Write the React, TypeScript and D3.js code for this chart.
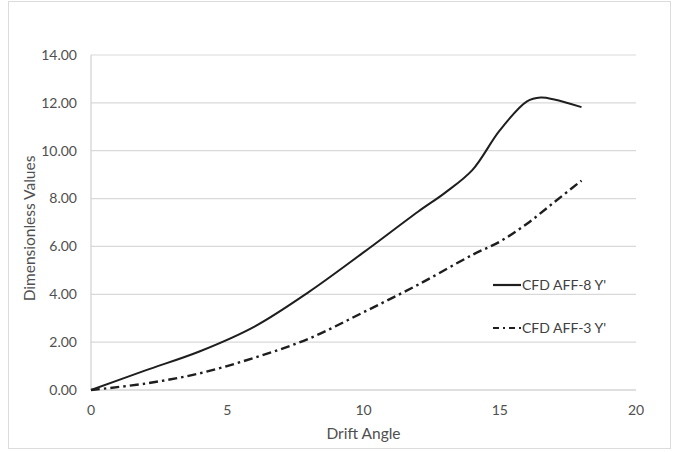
import React from 'react';
import * as d3 from 'd3';

// drift angle (deg) and the two Y' series
const aff8Angles = [0, 2, 4, 6, 8, 10, 12, 13, 14, 15, 16, 16.5, 17, 18];
const aff8Values = [0, 0.82, 1.62, 2.65, 4.1, 5.75, 7.45, 8.25, 9.2, 10.85, 12.06, 12.22, 12.14, 11.82];
const aff3Angles = [0, 2, 4, 6, 8, 10, 12, 14, 15, 16, 17, 18];
const aff3Values = [0, 0.27, 0.7, 1.35, 2.15, 3.25, 4.4, 5.65, 6.2, 6.95, 7.85, 8.75];

const xTicks = [0, 5, 10, 15, 20];
const yTicks = [0, 2, 4, 6, 8, 10, 12, 14];

const seriesNames = ["CFD AFF-8 Y'", "CFD AFF-3 Y'"];

const W = 676, H = 452;
const margin = { top: 55, right: 40, bottom: 62, left: 91 };
const FONT = 'Lato, "Open Sans", sans-serif';
const TEXT = '#505050';
const DASHDOT = '9,4,2.5,4';

export default function App() {
    var width = W - margin.left - margin.right;
    var height = H - margin.top - margin.bottom;

    var x = d3.scaleLinear().domain([0, 20]).range([0, width]);
    var y = d3.scaleLinear().domain([0, 14]).range([height, 0]);

    // excel style smoothed line
    const makeLine = (angles: number[]) => d3.line<number>()
        .x((d, i) => x(angles[i]))
        .y(d => y(d))
        .curve(d3.curveCatmullRom.alpha(0.5));

    return (
        <svg width={W} height={H} style={{ position: 'absolute', left: 0, top: 0, background: '#fff' }}
            fontFamily={FONT}>
            <rect x={8.5} y={1.5} width={662} height={447} fill="none" stroke="#dcdcdc" />
            <g transform={`translate(${margin.left},${margin.top})`}>
                {/* grid */}
                {yTicks.map(t => (
                    <line key={'g' + t} x1={0} x2={width} y1={y(t)} y2={y(t)}
                        stroke={t === 0 ? '#bfbfbf' : '#d9d9d9'} strokeWidth={1.2} />
                ))}
                <line x1={0} x2={0} y1={0} y2={height} stroke="#d0d0d0" strokeWidth={1.2} />
                {yTicks.map(t => (
                    <text key={'y' + t} x={-14} y={y(t)} dy="0.35em" textAnchor="end"
                        fontSize={14} fill={TEXT}>{t.toFixed(2)}</text>
                ))}
                {xTicks.map(t => (
                    <text key={'x' + t} x={x(t)} y={height + 25} textAnchor="middle"
                        fontSize={14} fill={TEXT}>{t}</text>
                ))}
                <text x={width / 2} y={height + 49} textAnchor="middle" fontSize={15.5} fill={TEXT}>Drift Angle</text>
                <text transform={`translate(${-56},${height / 2 + 6}) rotate(-90)`} textAnchor="middle"
                    fontSize={15.5} fill={TEXT}>Dimensionless Values</text>

                {/* series */}
                <path d={makeLine(aff8Angles)(aff8Values) || ''} fill="none" stroke="#1e1e1e" strokeWidth={2} />
                <path d={makeLine(aff3Angles)(aff3Values) || ''} fill="none" stroke="#1e1e1e" strokeWidth={2.4}
                    strokeDasharray={DASHDOT} />

                {/* legend */}
                {seriesNames.map((name, i) => {
                    const ly = 230 + i * 43;
                    return (
                        <g key={name}>
                            <line x1={402} x2={430} y1={ly} y2={ly} stroke="#1e1e1e"
                                strokeWidth={2.2} strokeDasharray={i === 1 ? '6,4,2,4' : undefined} />
                            <text x={431} y={ly} dy="0.35em" fontSize={14} fill="#404040">{name}</text>
                        </g>
                    );
                })}
            </g>
        </svg>
    );
}
